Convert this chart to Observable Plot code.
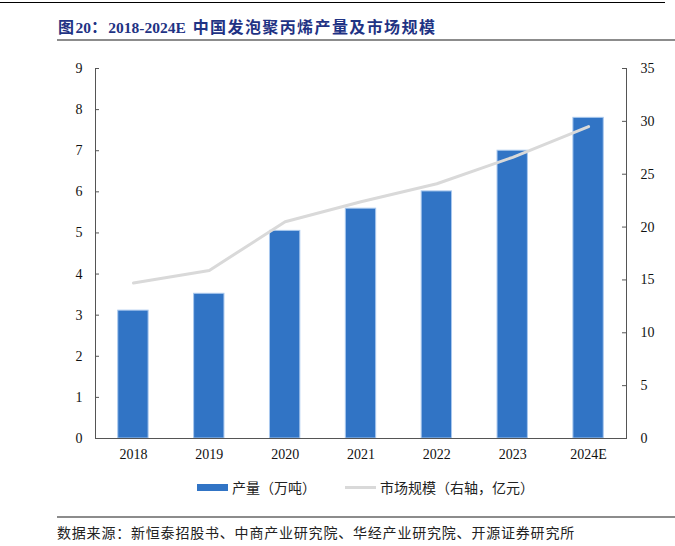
<!DOCTYPE html>
<html>
<head>
<meta charset="utf-8">
<script src="https://cdn.jsdelivr.net/npm/d3@7"></script>
<script src="https://cdn.jsdelivr.net/npm/@observablehq/plot@0.6"></script>
<style>
  html, body { margin: 0; padding: 0; background: #fff; }
  #wrap { position: relative; width: 675px; height: 546px; overflow: hidden; font-family: "Liberation Serif", "Noto Sans CJK SC", serif; }
  .abs { position: absolute; }
  #topline { left: 0; top: 2px; width: 665px; height: 0; border-top: 1.5px solid #000; }
  #title { left: 58px; top: 14px; font-size: 16px; letter-spacing: 1.4px; font-weight: bold; color: #1f3384; white-space: nowrap; font-family: "Liberation Serif", "Noto Sans CJK SC", serif; }
  #title .lat { font-size: 15.5px; letter-spacing: 0; word-spacing: 3px; }
  #titleline { left: 57px; top: 39px; width: 618px; height: 0; border-top: 2.5px solid #8c8c8c; }
  #chart { left: 0; top: 50px; }
  #legend { top: 478px; left: 0; width: 675px; height: 20px; font-size: 14px; font-family: "Noto Sans CJK SC", sans-serif; color: #222; }
  .sw { position: absolute; }
  #srcline { left: 57px; top: 516px; width: 618px; height: 0; border-top: 2px solid #8c8c8c; }
  #source { left: 57px; top: 522px; font-size: 14px; letter-spacing: 0.8px; color: #222; white-space: nowrap; font-family: "Noto Sans CJK SC", sans-serif; }
</style>
</head>
<body>
<div id="wrap">
  <div id="topline" class="abs"></div>
  <div id="title" class="abs"></div>
  <div id="titleline" class="abs"></div>
  <div id="chart" class="abs"></div>
  <div id="legend" class="abs"></div>
  <div id="srcline" class="abs"></div>
  <div id="source" class="abs"></div>
</div>
<script>
const titleText = "图20：2018-2024E 中国发泡聚丙烯产量及市场规模";
const sourceText = "数据来源：新恒泰招股书、中商产业研究院、华经产业研究院、开源证券研究所";
const seriesNames = ["产量（万吨）", "市场规模（右轴，亿元）"];
const years = ["2018", "2019", "2020", "2021", "2022", "2023", "2024E"];
const output = [3.11, 3.52, 5.05, 5.59, 6.01, 7.0, 7.8];
const market = [14.7, 15.9, 20.5, 22.4, 24.1, 26.6, 29.5];
const leftTicks = [0, 1, 2, 3, 4, 5, 6, 7, 8, 9];
const rightTicks = [0, 5, 10, 15, 20, 25, 30, 35];

const barColor = "#3174c5";
const lineColor = "#d9d9d9";
const axisColor = "#555";

// title: split into ASCII / CJK runs
const titleEl = document.getElementById("title");
(titleText.match(/[\x20-\x7e]+|[^\x20-\x7e]+/g) || []).forEach(run => {
  const s = document.createElement("span");
  if (/^[\x20-\x7e]+$/.test(run)) s.className = "lat";
  s.textContent = run;
  titleEl.appendChild(s);
});
document.getElementById("source").textContent = sourceText;

const data = years.map((y, i) => ({year: y, output: output[i], market: market[i]}));
const leftMax = 9, rightMax = 35;
const toLeft = v => v * leftMax / rightMax;

const W = 675, H = 420, mL = 95, mR = 49, mT = 18, mB = 32;
const plotW = W - mL - mR;

const chart = Plot.plot({
  width: W, height: H,
  marginLeft: mL, marginRight: mR, marginTop: mT, marginBottom: mB,
  x: {domain: years, paddingInner: 0.6, paddingOuter: 0.3, round: false},
  y: {domain: [0, leftMax]},
  style: {fontFamily: "Liberation Serif, serif", fontSize: "14px", color: "#111", background: "transparent", overflow: "visible"},
  marks: [
    Plot.barY(data, {x: "year", y: "output", fill: barColor, stroke: "#a9c8ee", strokeWidth: 1}),
    Plot.line(data, {x: "year", y: d => toLeft(d.market), stroke: lineColor, strokeWidth: 3}),
    Plot.ruleY([0], {stroke: axisColor, strokeWidth: 1}),
    Plot.frame({anchor: "left", stroke: axisColor, strokeWidth: 1}),
    Plot.frame({anchor: "right", stroke: axisColor, strokeWidth: 1}),
    Plot.ruleY(leftTicks, {stroke: axisColor, insetRight: plotW - 4}),
    Plot.ruleY(rightTicks.map(toLeft), {stroke: axisColor, insetLeft: plotW - 4}),
    Plot.axisX({tickSize: 0, tickPadding: 11, label: null}),
    Plot.axisY(leftTicks, {anchor: "left", tickSize: 0, tickPadding: 13, label: null}),
    Plot.axisY(rightTicks.map(toLeft), {anchor: "right", tickSize: 0, tickPadding: 14, label: null,
      tickFormat: d => String(Math.round(d * rightMax / leftMax)), textAnchor: "start"})
  ]
});
document.getElementById("chart").appendChild(chart);

// legend
const lg = document.getElementById("legend");
function add(html) { const e = document.createElement("div"); e.className = "sw"; e.innerHTML = html; lg.appendChild(e); return e; }
const s1 = add(""); Object.assign(s1.style, {left: "197px", top: "6px", width: "31px", height: "7px", background: barColor});
const t1 = add(seriesNames[0]); Object.assign(t1.style, {left: "232px", top: "-1px", whiteSpace: "nowrap"});
const s2 = add(""); Object.assign(s2.style, {left: "345px", top: "8px", width: "31px", height: "3px", background: lineColor});
const t2 = add(seriesNames[1]); Object.assign(t2.style, {left: "380px", top: "-1px", whiteSpace: "nowrap"});
</script>
</body>
</html>
